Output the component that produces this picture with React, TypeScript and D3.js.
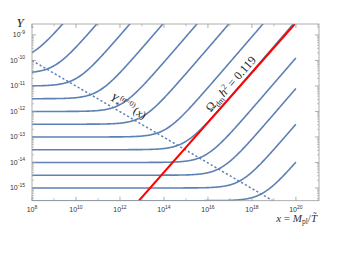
import React from 'react';
import * as d3 from 'd3';

// flat level of each Y(x) curve (log10) and log10 of its linear coefficient
const plateauExp = [-10, -10.5, -11, -11.5, -12, -12.5, -13, -13.5, -14, -14.5, -15, -15.5];
const slopeExp = [-17.98, -19.52, -21.02, -22.52, -24.07, -25.52, -27.07, -28.45, -29.9, -31.1, -32.5, -34.0];

// Omega h^2 = 0.119 line, two points (log10 x, log10 Y)
const relicX = [12.86, 19.95];
const relicY = [-15.5, -8.57];

// Y_*^(alpha=0)(x) dotted line
const yStarX = [8, 18.95];
const yStarY = [-10, -15.5];

const xTickExp = [8, 10, 12, 14, 16, 18, 20];
const xMinorExp = [9, 11, 13, 15, 17, 19, 21];
const yTickExp = [-9, -10, -11, -12, -13, -14, -15];

const W = 342;
const H = 256;
const margin = { left: 32, right: 319, top: 24, bottom: 200.7 };

const blue = '#5e81b5';
const frame = '#9a9a9a';
const labelColor = '#333';

const x = d3.scaleLog().domain([1e8, 10 ** 21.05]).range([margin.left, margin.right]);
const y = d3.scaleLog().domain([10 ** -15.5, 10 ** -8.57]).range([margin.bottom, margin.top]);

const xs = d3.range(0, 361).map((i) => 10 ** (8 + (i * 12) / 360));

const line = d3
    .line<[number, number]>()
    .x((d) => x(d[0]))
    .y((d) => y(d[1]));

const curves = plateauExp.map((L, i) => xs.map((v) => [v, 10 ** L + 10 ** slopeExp[i] * v] as [number, number]));

const relicPts = relicX.map((e, i) => [10 ** e, 10 ** relicY[i]] as [number, number]);
const yStarPts = yStarX.map((e, i) => [10 ** e, 10 ** yStarY[i]] as [number, number]);

const yMinor: number[] = [];
for (let d = -16; d <= -9; d++) {
    for (let k = 2; k <= 9; k++) {
        const v = k * 10 ** d;
        if (v > 10 ** -15.5 && v < 10 ** -8.57) yMinor.push(v);
    }
}

const Pow = ({ e, base = 7, sup = 5 }: { e: number; base?: number; sup?: number }) => (
    <>
        <tspan fontSize={base}>10</tspan>
        <tspan fontSize={sup} dy={-3.5}>
            {e < 0 ? '-' + Math.abs(e) : e}
        </tspan>
    </>
);

const App = () => {
    const p0 = [x(relicPts[0][0]), y(relicPts[0][1])];
    const p1 = [x(relicPts[1][0]), y(relicPts[1][1])];
    const relicAngle = (Math.atan2(p1[1] - p0[1], p1[0] - p0[0]) * 180) / Math.PI;
    const q0 = [x(yStarPts[0][0]), y(yStarPts[0][1])];
    const q1 = [x(yStarPts[1][0]), y(yStarPts[1][1])];
    const starAngle = (Math.atan2(q1[1] - q0[1], q1[0] - q0[0]) * 180) / Math.PI;

    const relicAt = (px: number) => [px, p0[1] + ((px - p0[0]) * (p1[1] - p0[1])) / (p1[0] - p0[0])];
    const starAt = (px: number) => [px, q0[1] + ((px - q0[0]) * (q1[1] - q0[1])) / (q1[0] - q0[0])];
    const rA = relicAt(237);
    const sA = starAt(124);

    return (
        <svg
            width={W}
            height={H}
            style={{ position: 'absolute', left: 0, top: 0, background: '#fff' }}
            fontFamily="'Liberation Sans', sans-serif"
        >
            <defs>
                <clipPath id="plot">
                    <rect x={margin.left} y={margin.top} width={margin.right - margin.left} height={margin.bottom - margin.top} />
                </clipPath>
            </defs>

            <g clipPath="url(#plot)">
                {curves.map((c, i) => (
                    <path key={i} d={line(c) || ''} fill="none" stroke={blue} strokeWidth={1.6} />
                ))}
                <path d={line(yStarPts) || ''} fill="none" stroke={blue} strokeWidth={1.5} strokeDasharray="2.2,2.2" />
                <path d={line(relicPts) || ''} fill="none" stroke="#ff0000" strokeWidth={2} />
            </g>

            {/* frame */}
            <rect
                x={margin.left}
                y={margin.top}
                width={margin.right - margin.left}
                height={margin.bottom - margin.top}
                fill="none"
                stroke={frame}
                strokeWidth={0.8}
            />

            {/* y ticks */}
            {yTickExp.map((e) => (
                <g key={e}>
                    <line x1={margin.left} x2={margin.left + 4} y1={y(10 ** e)} y2={y(10 ** e)} stroke={frame} strokeWidth={0.8} />
                    <line x1={margin.right} x2={margin.right - 4} y1={y(10 ** e)} y2={y(10 ** e)} stroke={frame} strokeWidth={0.8} />
                    <text x={25} y={y(10 ** e) + 2.5} textAnchor="end" fill={labelColor}>
                        <Pow e={e} />
                    </text>
                </g>
            ))}
            {yMinor.map((v, i) => (
                <g key={'ym' + i}>
                    <line x1={margin.left} x2={margin.left + 2} y1={y(v)} y2={y(v)} stroke={frame} strokeWidth={0.6} />
                    <line x1={margin.right} x2={margin.right - 2} y1={y(v)} y2={y(v)} stroke={frame} strokeWidth={0.6} />
                </g>
            ))}

            {/* x ticks */}
            {xTickExp.map((e) => (
                <g key={e}>
                    <line x1={x(10 ** e)} x2={x(10 ** e)} y1={margin.bottom} y2={margin.bottom - 4} stroke={frame} strokeWidth={0.8} />
                    <line x1={x(10 ** e)} x2={x(10 ** e)} y1={margin.top} y2={margin.top + 4} stroke={frame} strokeWidth={0.8} />
                    <text x={x(10 ** e)} y={212} textAnchor="middle" fill={labelColor}>
                        <Pow e={e} />
                    </text>
                </g>
            ))}
            {xMinorExp.map((e) => (
                <g key={'xm' + e}>
                    <line x1={x(10 ** e)} x2={x(10 ** e)} y1={margin.bottom} y2={margin.bottom - 2.5} stroke={frame} strokeWidth={0.6} />
                    <line x1={x(10 ** e)} x2={x(10 ** e)} y1={margin.top} y2={margin.top + 2.5} stroke={frame} strokeWidth={0.6} />
                </g>
            ))}

            {/* axis labels */}
            <text x={20} y={27} textAnchor="middle" fontFamily="'Liberation Serif', serif" fontStyle="italic" fontSize={13} fill="#222">
                Y
            </text>
            <text x={317} y={222} textAnchor="end" fontFamily="'Liberation Serif', serif" fontSize={11} fill="#333">
                <tspan fontStyle="italic">x</tspan>
                <tspan> = </tspan>
                <tspan fontStyle="italic">M</tspan>
                <tspan fontSize={7.5} dy={2}>pl</tspan>
                <tspan dy={-2}>/</tspan>
                <tspan fontStyle="italic">{'T\u0303'}</tspan>
            </text>

            {/* curve labels */}
            <text
                transform={`translate(${rA[0]},${rA[1]}) rotate(${relicAngle})`}
                y={-4.5}
                textAnchor="middle"
                fontFamily="'Liberation Serif', serif"
                fontSize={12}
                fill="#222"
            >
                <tspan>Ω</tspan>
                <tspan fontSize={8} dy={2.5}>dm</tspan>
                <tspan fontStyle="italic" dy={-2.5} dx={1}>h</tspan>
                <tspan fontSize={8} dy={-4.5}>2</tspan>
                <tspan dy={4.5}> = 0.119</tspan>
            </text>
            <text
                transform={`translate(${sA[0]},${sA[1]}) rotate(${starAngle})`}
                y={-5}
                textAnchor="middle"
                fontFamily="'Liberation Serif', serif"
                fontSize={11.5}
                fill="#222"
            >
                <tspan fontStyle="italic">Y</tspan>
                <tspan fontSize={8} dy={3}>*</tspan>
                <tspan fontSize={7.5} dy={-8.5} dx={-2}>(</tspan>
                <tspan fontSize={7.5} fontStyle="italic">α</tspan>
                <tspan fontSize={7.5}>=0)</tspan>
                <tspan dy={5.5} dx={1}>(</tspan>
                <tspan fontStyle="italic">x</tspan>
                <tspan>)</tspan>
            </text>
        </svg>
    );
};

export default App;
